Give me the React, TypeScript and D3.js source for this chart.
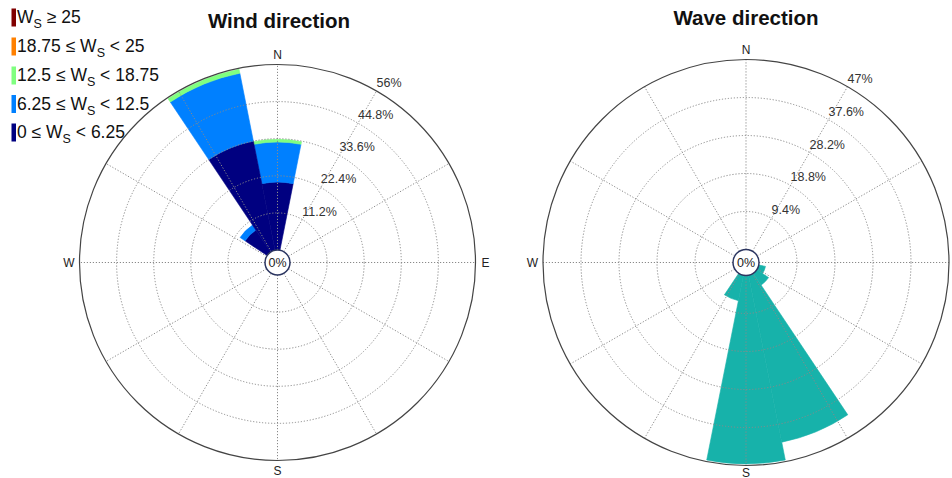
import React from "react";
import * as d3 from "d3";

const directions = ["N","NNE","NE","ENE","E","ESE","SE","SSE","S","SSW","SW","WSW","W","WNW","NW","NNW"];

// Wind speed bins (percent of time), per direction
const windBin1 = [20.5,0,0,0,0,0,0,0,0,0,0,0,0,0,8.0,33.6];   // 0 ≤ Ws < 6.25
const windBin2 = [12.1,0,0,0,0,0,0,0,0,0,0,0,0,0,1.8,20.9];   // 6.25 ≤ Ws < 12.5
const windBin3 = [0.8,0,0,0,0,0,0,0,0,0,0,0,0,0,0,1.2];       // 12.5 ≤ Ws < 18.75
const windBin4 = [0,0,0,0,0,0,0,0,0,0,0,0,0,0,0,0];           // 18.75 ≤ Ws < 25
const windBin5 = [0,0,0,0,0,0,0,0,0,0,0,0,0,0,0,0];           // Ws ≥ 25
const windColors = ["#000080","#0080ff","#80ff80","#ff8000","#800000"];

const waveValues = [0,0,0,0,0,1.7,3.5,42.1,46.6,6.4,0,0,0,0,0,0];
const waveColor = "#17b2aa";

const windTickValues = [11.2,22.4,33.6,44.8,56];
const windTickLabels = ["11.2%","22.4%","33.6%","44.8%","56%"];
const waveTickValues = [9.4,18.8,28.2,37.6,47];
const waveTickLabels = ["9.4%","18.8%","28.2%","37.6%","47%"];

const legendPre = ["", "18.75 ≤ ", "12.5 ≤ ", "6.25 ≤ ", "0 ≤ "];
const legendPost = [" ≥ 25", " < 25", " < 18.75", " < 12.5", " < 6.25"];
const legendColors = ["#800000","#ff8000","#80ff80","#0080ff","#000080"];

const FONT = "Arial, 'Liberation Sans', Helvetica, sans-serif";

type RoseProps = {
  cx: number; cy: number; R: number; r0: number; max: number;
  stacks: number[][]; colors: string[];
  tickValues: number[]; tickLabels: string[];
  showE: boolean; sOffset: number;
};

function Rose({ cx, cy, R, r0, max, stacks, colors, tickValues, tickLabels, showE, sOffset }: RoseProps) {
  const r = d3.scaleLinear().domain([0, max]).range([r0, R]);
  const step = (2 * Math.PI) / directions.length;
  const arc = d3.arc<any>();
  const bars: JSX.Element[] = [];
  directions.forEach((_, i) => {
    let cum = 0;
    stacks.forEach((series, k) => {
      const v = series[i];
      if (v <= 0) return;
      const a0 = i * step - step / 2;
      const d = arc({
        innerRadius: r(cum),
        outerRadius: r(cum + v),
        startAngle: a0,
        endAngle: a0 + step,
      });
      cum += v;
      bars.push(<path key={`b${i}-${k}`} d={d || ""} fill={colors[k]} stroke={colors[k]} strokeWidth={0.6} />);
    });
  });
  const spokes = d3.range(0, 360, 30);
  const grid = "#8a8a8a";
  return (
    <g transform={`translate(${cx},${cy})`}>
      {bars}
      {tickValues.slice(0, -1).map((t) => (
        <circle key={`c${t}`} r={r(t)} fill="none" stroke={grid} strokeWidth={1} strokeDasharray="1.2,1.8" />
      ))}
      {spokes.map((a) => {
        const th = (a * Math.PI) / 180;
        return (
          <line key={`s${a}`} x1={r0 * Math.sin(th)} y1={-r0 * Math.cos(th)} x2={R * Math.sin(th)} y2={-R * Math.cos(th)}
            stroke={grid} strokeWidth={1} strokeDasharray="1.2,1.8" />
        );
      })}
      <circle r={R} fill="none" stroke="#444" strokeWidth={1.2} />
      <circle r={r0} fill="#fff" stroke="#2b3560" strokeWidth={1.5} />
      <text x={0} y={4.5} textAnchor="middle" fontSize={12.5} fontFamily={FONT} fill="#222">0%</text>
      {tickValues.map((t, j) => {
        const th = Math.PI / 6;
        return (
          <text key={`t${t}`} x={r(t) * Math.sin(th)} y={-r(t) * Math.cos(th) - 4} fontSize={12.5} fontFamily={FONT} fill="#333">
            {tickLabels[j]}
          </text>
        );
      })}
      <text x={0} y={-R - 6} textAnchor="middle" fontSize={12} fontFamily={FONT} fill="#222">N</text>
      <text x={0} y={R + sOffset} textAnchor="middle" fontSize={12} fontFamily={FONT} fill="#222">S</text>
      <text x={-R - 5} y={4.5} textAnchor="end" fontSize={12} fontFamily={FONT} fill="#222">W</text>
      {showE && (
        <text x={R + 6} y={4.5} textAnchor="start" fontSize={12} fontFamily={FONT} fill="#222">E</text>
      )}
    </g>
  );
}

export default function App() {
  const baselines = [23, 52, 81, 109.5, 138];
  return (
    <svg width={952} height={478} style={{ position: "absolute", left: 0, top: 0, background: "#fff" }}>
      <rect x={0} y={0} width={952} height={478} fill="#fff" />
      <Rose cx={277.5} cy={262.5} R={198} r0={12.5} max={56}
        stacks={[windBin1, windBin2, windBin3, windBin4, windBin5]} colors={windColors}
        tickValues={windTickValues} tickLabels={windTickLabels} showE={true} sOffset={14} />
      <Rose cx={746} cy={262.5} R={203} r0={13} max={47}
        stacks={[waveValues]} colors={[waveColor]}
        tickValues={waveTickValues} tickLabels={waveTickLabels} showE={false} sOffset={11} />
      <text x={279} y={28} textAnchor="middle" fontSize={20.5} fontWeight="bold" fontFamily={FONT} fill="#111">Wind direction</text>
      <text x={746} y={25} textAnchor="middle" fontSize={20.5} fontWeight="bold" fontFamily={FONT} fill="#111">Wave direction</text>
      {legendPre.map((pre, i) => (
        <g key={`lg${i}`}>
          <rect x={11.5} y={baselines[i] - 14.5} width={4.5} height={18} fill={legendColors[i]} />
          <text x={17} y={baselines[i]} fontSize={17.5} fontFamily={FONT} fill="#111" style={{ whiteSpace: "pre" }}>
            <tspan>{pre + "W"}</tspan>
            <tspan dy={5} fontSize={12.5}>S</tspan>
            <tspan dy={-5}>{legendPost[i]}</tspan>
          </text>
        </g>
      ))}
    </svg>
  );
}
